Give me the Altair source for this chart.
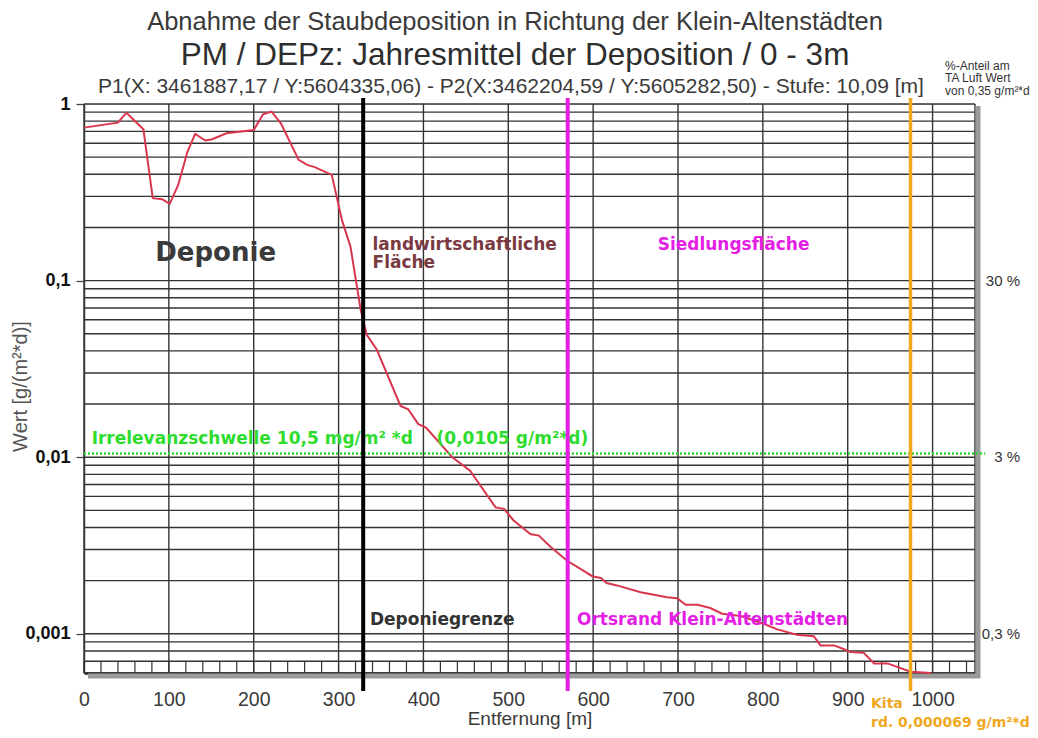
import altair as alt
import pandas as pd

# ---------------- data ----------------
dist = [0, 40, 50, 70, 81, 92, 101, 111, 122, 131, 143, 151, 168, 200, 211, 221, 232,
        253, 263, 272, 292, 304, 314, 326, 333, 345, 373, 382, 394, 403, 434, 455,
        485, 495, 506, 526, 536, 550, 569, 599, 609, 616, 628, 656, 687, 699, 709,
        723, 738, 752, 774, 801, 817, 840, 860, 868, 884, 895, 903, 919, 931, 947,
        974, 998]
dep = [0.735, 0.784, 0.893, 0.72, 0.293, 0.289, 0.272, 0.348, 0.538, 0.677, 0.621,
       0.632, 0.683, 0.713, 0.874, 0.905, 0.778, 0.483, 0.452, 0.439, 0.397, 0.22,
       0.156, 0.0686, 0.0495, 0.0407, 0.0195, 0.0187, 0.0154, 0.0147, 0.0100, 0.0084,
       0.0052, 0.0051, 0.0044, 0.00367, 0.0036, 0.0031, 0.0026, 0.00212, 0.00207,
       0.00194, 0.00188, 0.00172, 0.00161, 0.00159, 0.00146, 0.00146, 0.0014, 0.0013,
       0.00126, 0.00114, 0.00106, 0.000987, 0.00097, 0.00086, 0.00086, 0.00082,
       0.00079, 0.00078, 0.00068, 0.00068, 0.00061, 0.0006]

x_ticks = [0, 100, 200, 300, 400, 500, 600, 700, 800, 900, 1000]
x_grid = x_ticks + [1050]
x_small = list(range(0, 1050, 20))
y_ticks = [1, 0.1, 0.01, 0.001]
y_grid = sorted({round(m * 10 ** e, 6) for e in range(-4, 1) for m in range(1, 10)
                 if 0.0006 <= round(m * 10 ** e, 6) <= 1})
pct_values = [0.1, 0.01, 0.001]
pct_labels = ["30 %", "3 %", "0,3 %"]
threshold = 0.0105

bound_pos = [329, 570, 974]
bound_names = ["Deponiegrenze", "Ortsrand", "Kita"]
bound_colors = ["#000000", "#e41ee4", "#f0a81e"]

title_lines = [
    "Abnahme der Staubdeposition in Richtung der Klein-Altenstädten",
    "PM / DEPz: Jahresmittel der Deposition / 0 - 3m",
    "P1(X: 3461887,17 / Y:5604335,06) - P2(X:3462204,59 / Y:5605282,50) - Stufe: 10,09 [m]",
]
note_lines = ["%-Anteil am", "TA Luft Wert", "von 0,35 g/m²*d"]

W, H = 891, 569
xs = alt.Scale(domain=[0, 1050], nice=False, zero=False)
ys = alt.Scale(type="log", domain=[0.0006, 1], nice=False)
SANS = "Liberation Sans"
BOLD = "DejaVu Sans"

AX = alt.Axis(
    values=x_ticks, format="d", grid=False, ticks=False, domainColor="#222",
    domainWidth=2.5, labelFont=SANS, labelFontSize=19.5, labelColor="#3a3a3a",
    labelPadding=17, labelFlush=False, title="Entfernung [m]", titleFont=SANS,
    titleFontSize=19, titleFontWeight="normal", titleColor="#3a3a3a", titleY=36)
AY = alt.Axis(
    values=y_ticks, labelExpr="replace(format(datum.value, '~g'), '.', ',')",
    grid=False, tickSize=8, tickColor="#444", tickWidth=1.3, domainColor="#444",
    domainWidth=1.5, labelFont=SANS, labelFontSize=18, labelFontWeight="bold",
    labelColor="#111", labelPadding=6, title="Wert [g/(m²*d)]", titleFont=SANS,
    titleFontSize=20, titleFontWeight="normal", titleColor="#555", titleX=-64,
    titleY=282, titleAngle=270, titleAlign="center", titleBaseline="middle")


def X(field):
    return alt.X(field, scale=xs, axis=AX)


def Y(field):
    return alt.Y(field, scale=ys, axis=AY)


curve_df = pd.DataFrame({"d": dist, "v": dep})

# ---------------- layers ----------------
hgrid = alt.Chart(pd.DataFrame({"v": y_grid})).mark_rule(color="#333", strokeWidth=1.4).encode(
    y=Y("v:Q"))
vgrid = alt.Chart(pd.DataFrame({"d": x_grid})).mark_rule(color="#333", strokeWidth=1.4).encode(
    x=X("d:Q"))
small = alt.Chart(pd.DataFrame({"d": x_small, "v": 0.0006, "b": 0.0007})).mark_rule(
    color="#333", strokeWidth=1.2).encode(x=X("d:Q"), y=Y("v:Q"), y2="b:Q")

shadow_r = alt.Chart(pd.DataFrame({"d": [1050]})).mark_rule(
    color="#9a9a9a", strokeWidth=5, xOffset=3).encode(
    x=X("d:Q"), y=alt.value(2), y2=alt.value(H + 5))
shadow_b = alt.Chart(pd.DataFrame({"v": [0.0006]})).mark_rule(
    color="#9a9a9a", strokeWidth=5, yOffset=3).encode(
    y=Y("v:Q"), x=alt.value(4), x2=alt.value(W + 5))

thr = alt.Chart(pd.DataFrame({"d": [0], "b": [1062], "v": [threshold]})).mark_rule(
    color="#2edc2e", strokeWidth=2.5, strokeDash=[2, 2]).encode(
    x=X("d:Q"), x2="b:Q", y=Y("v:Q"))

curve = alt.Chart(curve_df).mark_line(color="#d8364e", strokeWidth=2).encode(
    x=X("d:Q"), y=Y("v:Q"))

bounds_df = pd.DataFrame({"d": bound_pos, "n": bound_names, "c": bound_colors,
                          "w": [4, 4, 3.5]})
bounds = alt.Chart(bounds_df).mark_rule().encode(
    x=X("d:Q"), y=alt.value(-6), y2=alt.value(H + 18),
    color=alt.Color("c:N", scale=None), strokeWidth=alt.StrokeWidth("w:Q", scale=None))


def label(text, x, y, color, size, font=BOLD, weight="bold", align="left"):
    return alt.Chart(pd.DataFrame({"d": [x], "v": [y], "t": [text]})).mark_text(
        font=font, fontSize=size, fontWeight=weight, color=color, align=align,
        baseline="middle").encode(x=X("d:Q"), y=Y("v:Q"), text="t:N")


NB = "\u00a0"
txt_dep = label("Deponie", 84, 0.144, "#3a3a3a", 26)
txt_lw1 = label("landwirtschaftliche", 340, 0.16, "#7a3a42", 17)
txt_lw2 = label("Fläche", 340, 0.126, "#7a3a42", 17)
txt_sied = label("Siedlungsfläche", 676, 0.16, "#e41ee4", 17)
txt_dg = label("Deponiegrenze", 337, 0.0012, "#333333", 17)
txt_ort = label("Ortsrand Klein-Altenstädten", 581, 0.0012, "#e41ee4", 17)
txt_thr = label("Irrelevanzschwelle 10,5 mg/m² *d" + NB * 4 + "(0,0105 g/m²*d)", 9, 0.0127,
                "#2edc2e", 17)

pct = alt.Chart(pd.DataFrame({"v": pct_values, "t": pct_labels})).mark_text(
    font=SANS, fontSize=15, color="#333", align="right", baseline="middle").encode(
    y=Y("v:Q"), x=alt.value(W + 45), text="t:N")


def pix(text, x, y, color, size, font=SANS, weight="normal", align="center",
        baseline="middle"):
    return alt.Chart(pd.DataFrame({"t": [text]})).mark_text(
        font=font, fontSize=size, fontWeight=weight, color=color, align=align,
        baseline=baseline).encode(x=alt.value(x), y=alt.value(y), text="t:N")


t1 = pix(title_lines[0], 431, -74, "#3a3a3a", 25.5, baseline="alphabetic")
t2 = pix(title_lines[1], 431, -39, "#2e2e2e", 31.5, baseline="alphabetic")
t3 = pix(title_lines[2], 427, -11, "#3a3a3a", 21, baseline="alphabetic")
n1 = pix(note_lines[0], 861, -38, "#333", 12, align="left")
n2 = pix(note_lines[1], 861, -26, "#333", 12, align="left")
n3 = pix(note_lines[2], 861, -13, "#333", 12, align="left")
kita1 = pix("Kita", 787, 600, "#f0a81e", 14, font=BOLD, weight="bold", align="left")
kita2 = pix("rd. 0,000069 g/m²*d", 787, 619, "#f0a81e", 14, font=BOLD, weight="bold",
            align="left")

chart = alt.layer(
    hgrid, vgrid, small, shadow_r, shadow_b, curve, thr,
    txt_dep, txt_lw1, txt_lw2, txt_sied, txt_dg, txt_ort, txt_thr, bounds,
    pct, t1, t2, t3, n1, n2, n3, kita1, kita2,
).properties(
    width=W, height=H,
    autosize=alt.AutoSizeParams(type="none"),
    padding={"left": 76, "top": 96, "right": 55, "bottom": 57},
).configure_view(stroke=None).configure(background="white")

chart.save("out.html", embed_options={"renderer": "svg", "actions": False})
